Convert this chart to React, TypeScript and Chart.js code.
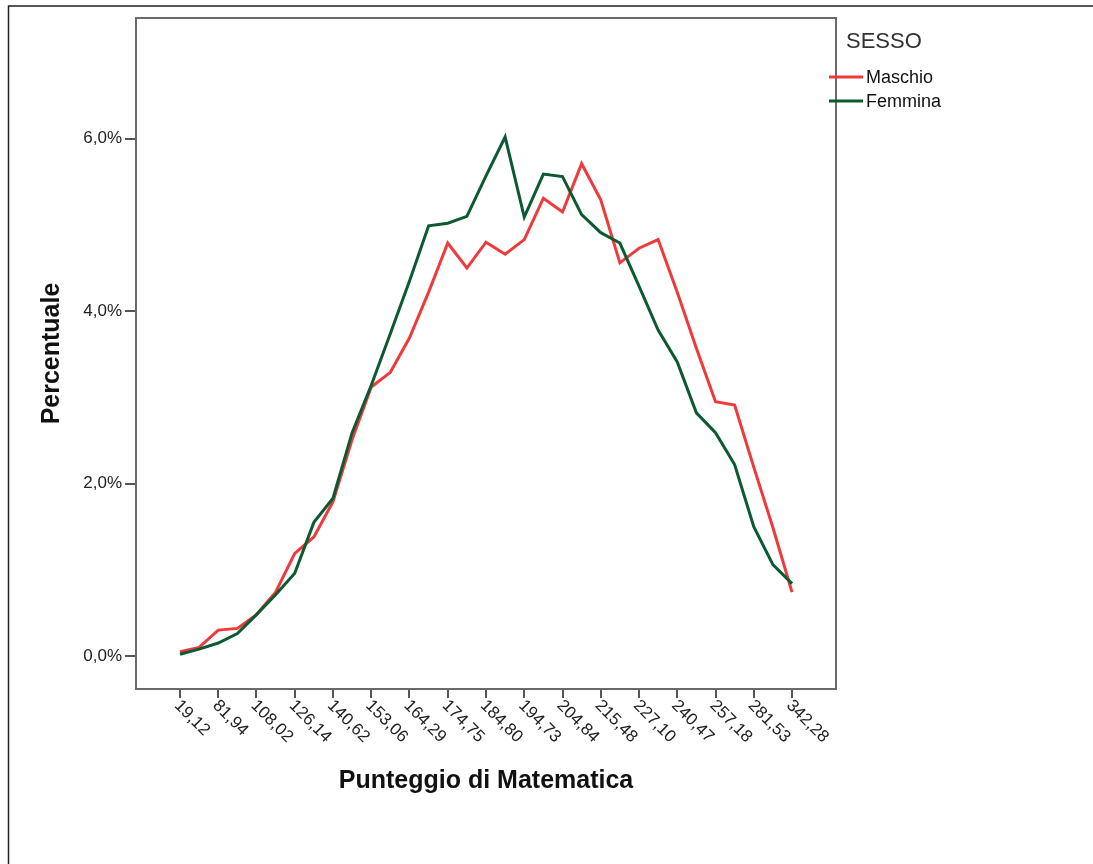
import React, { useEffect, useRef } from "react";
import { Chart, registerables } from "chart.js";

Chart.register(...registerables);

// Tick labels on the x axis (one label every other bin)
const tickLabels = [
  "19,12", "81,94", "108,02", "126,14", "140,62", "153,06", "164,29", "174,75",
  "184,80", "194,73", "204,84", "215,48", "227,10", "240,47", "257,18", "281,53", "342,28",
];

// Percentages per bin (33 bins)
const maschio = [
  0.05, 0.10, 0.30, 0.32, 0.48, 0.74, 1.19, 1.38, 1.79, 2.51, 3.12,
  3.29, 3.69, 4.22, 4.79, 4.50, 4.80, 4.66, 4.83, 5.31, 5.15, 5.71,
  5.29, 4.56, 4.73, 4.83, 4.22, 3.57, 2.95, 2.91, 2.19, 1.49, 0.74,
];
const femmina = [
  0.02, 0.08, 0.15, 0.26, 0.48, 0.71, 0.96, 1.55, 1.83, 2.59, 3.14,
  3.74, 4.35, 4.99, 5.02, 5.10, 5.57, 6.02, 5.09, 5.59, 5.56, 5.12,
  4.91, 4.79, 4.29, 3.78, 3.41, 2.82, 2.59, 2.22, 1.50, 1.06, 0.84,
];

const seriesNames = ["Maschio", "Femmina"];
const seriesColors = ["#ef3a3d", "#0b5a30"];
const yTickValues = [0, 2, 4, 6];
const legendTitle = "SESSO";
const xTitle = "Punteggio di Matematica";
const yTitle = "Percentuale";

const FONT = "'Liberation Sans', Arial, sans-serif";

export default function App() {
  const ref = useRef<HTMLCanvasElement>(null);

  useEffect(() => {
    const canvas = ref.current!;
    const toPts = (arr: number[]) => arr.map((y, i) => ({ x: i, y }));

    const decorPlugin = {
      id: "decor",
      beforeDraw(chart: any) {
        const ctx = chart.ctx;
        ctx.save();
        ctx.fillStyle = "#ffffff";
        ctx.fillRect(0, 0, chart.width, chart.height);
        ctx.strokeStyle = "#222";
        ctx.lineWidth = 1.5;
        ctx.beginPath();
        ctx.moveTo(8.5, chart.height);
        ctx.lineTo(8.5, 6);
        ctx.lineTo(chart.width, 6);
        ctx.stroke();
        ctx.restore();
      },
      beforeDatasetsDraw(chart: any) {
        const ctx = chart.ctx;
        const a = chart.chartArea;
        ctx.save();
        ctx.strokeStyle = "#6a6a6a";
        ctx.lineWidth = 2;
        ctx.strokeRect(a.left, a.top, a.right - a.left, a.bottom - a.top);
        ctx.restore();
      },
      afterDraw(chart: any) {
        const ctx = chart.ctx;
        const xs = chart.scales.x;
        ctx.save();
        // rotated x tick labels
        ctx.font = `17px ${FONT}`;
        ctx.fillStyle = "#222";
        ctx.textAlign = "left";
        ctx.textBaseline = "top";
        tickLabels.forEach((lab, k) => {
          const px = xs.getPixelForValue(2 * k);
          ctx.save();
          ctx.translate(px + 3, 697);
          ctx.rotate(Math.PI / 4);
          ctx.fillText(lab, 0, 0);
          ctx.restore();
        });
        // legend
        ctx.font = `22px ${FONT}`;
        ctx.fillStyle = "#333";
        ctx.textBaseline = "middle";
        ctx.fillText(legendTitle, 846, 42);
        seriesNames.forEach((name, j) => {
          const y = 77 + j * 24;
          ctx.strokeStyle = seriesColors[j];
          ctx.lineWidth = 3;
          ctx.beginPath();
          ctx.moveTo(829, y);
          ctx.lineTo(863, y);
          ctx.stroke();
          ctx.font = `18px ${FONT}`;
          ctx.fillStyle = "#111";
          ctx.fillText(name, 866, y + 1);
        });
        ctx.restore();
      },
    };

    const chart = new Chart(canvas, {
      type: "line",
      data: {
        datasets: [
          {
            label: seriesNames[0],
            data: toPts(maschio),
            borderColor: seriesColors[0],
            borderWidth: 3,
            pointRadius: 0,
            tension: 0,
            fill: false,
            order: 1,
          },
          {
            label: seriesNames[1],
            data: toPts(femmina),
            borderColor: seriesColors[1],
            borderWidth: 3,
            pointRadius: 0,
            tension: 0,
            fill: false,
            order: 0,
          },
        ],
      },
      options: {
        responsive: false,
        animation: false,
        devicePixelRatio: 1,
        layout: { padding: { left: 0, top: 18, right: 257, bottom: 0 } },
        plugins: { legend: { display: false }, tooltip: { enabled: false } },
        scales: {
          x: {
            type: "linear",
            min: -2.3,
            max: 34.3,
            afterBuildTicks: (s: any) => {
              s.ticks = tickLabels.map((_, k) => ({ value: 2 * k }));
            },
            afterFit: (s: any) => {
              s.height = 175;
            },
            ticks: { display: false },
            grid: { drawOnChartArea: false, drawTicks: true, tickLength: 9, tickColor: "#555", lineWidth: 2 },
            border: { display: false },
            title: {
              display: true,
              text: xTitle,
              color: "#111",
              font: { family: FONT, size: 25, weight: "bold" },
              padding: { top: 0, bottom: 68 },
            },
          },
          y: {
            min: -0.383,
            max: 7.4,
            afterBuildTicks: (s: any) => {
              s.ticks = yTickValues.map((v) => ({ value: v }));
            },
            afterFit: (s: any) => {
              s.width = 136;
            },
            ticks: {
              callback: (v: any) => Number(v).toFixed(1).replace(".", ",") + "%",
              font: { family: FONT, size: 17 },
              color: "#222",
              padding: 3,
            },
            grid: { drawOnChartArea: false, drawTicks: true, tickLength: 11, tickColor: "#555", lineWidth: 2 },
            border: { display: false },
            title: {
              display: true,
              text: yTitle,
              color: "#111",
              font: { family: FONT, size: 25, weight: "bold" },
              padding: { top: 37, bottom: 0 },
            },
          },
        },
      },
      plugins: [decorPlugin],
    } as any);

    return () => chart.destroy();
  }, []);

  return (
    <div style={{ position: "fixed", left: 0, top: 0, width: 1093, height: 864, background: "#fff" }}>
      <canvas ref={ref} width={1093} height={864} style={{ display: "block" }} />
    </div>
  );
}
